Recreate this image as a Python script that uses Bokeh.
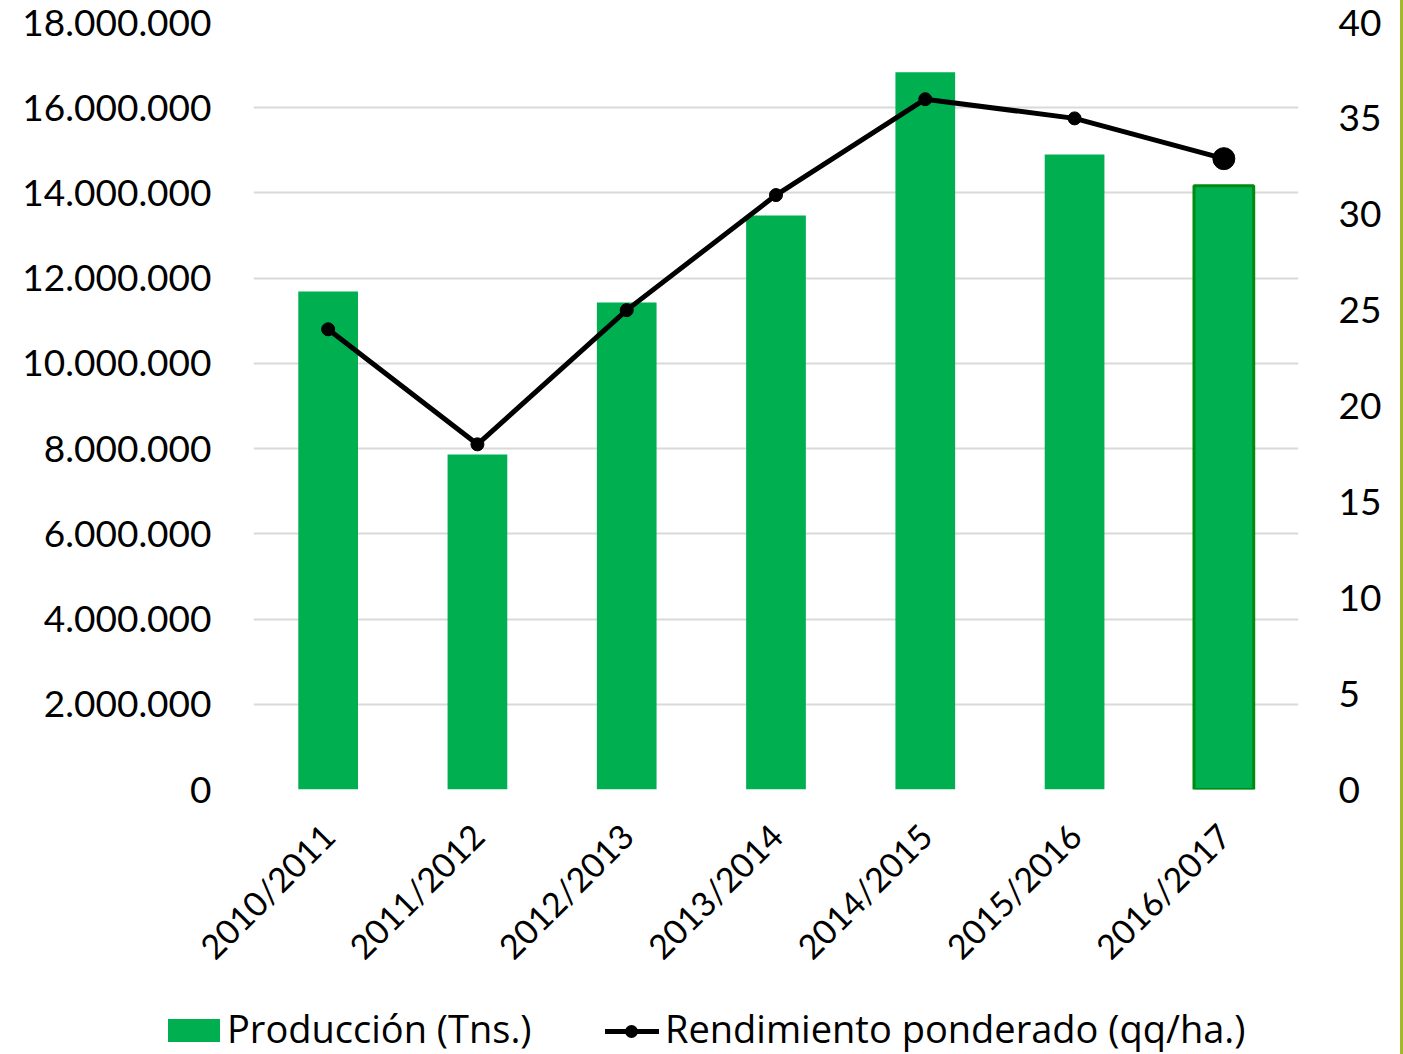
from bokeh.plotting import figure
from bokeh.models import (Range1d, LinearAxis, FixedTicker, Div)
from bokeh.layouts import column
from bokeh.embed import file_html
from bokeh.resources import INLINE

seasons = ["2010/2011", "2011/2012", "2012/2013", "2013/2014", "2014/2015", "2015/2016", "2016/2017"]
produccion = [11690000, 7860000, 11430000, 13470000, 16830000, 14900000, 14170000]
rendimiento = [24.0, 18.0, 25.0, 31.0, 36.0, 35.0, 32.9]

left_ticks = [0, 2000000, 4000000, 6000000, 8000000, 10000000, 12000000, 14000000, 16000000, 18000000]
left_labels = ["0", "2.000.000", "4.000.000", "6.000.000", "8.000.000", "10.000.000",
               "12.000.000", "14.000.000", "16.000.000", "18.000.000"]
right_ticks = [0, 5, 10, 15, 20, 25, 30, 35, 40]
right_labels = ["0", "5", "10", "15", "20", "25", "30", "35", "40"]
legend_labels = ["Producción (Tns.)", "Rendimiento ponderado (qq/ha.)"]

FONT = "Lato"
LEG_FONT = "Open Sans"
GREEN = "#00B050"
EDGE = {"border-right": "3px solid #A5B72A", "box-sizing": "border-box"}

p = figure(x_range=seasons, y_range=Range1d(0, 18000000),
           width=1403, height=1004, output_backend="svg", toolbar_location=None,
           min_border_left=253, min_border_right=105, min_border_top=22, min_border_bottom=215)
p.outline_line_color = None
p.background_fill_color = "white"
p.border_fill_color = "white"
p.styles = EDGE

p.extra_y_ranges = {"rend": Range1d(0, 40)}

# bars
p.vbar(x=seasons[:-1], top=produccion[:-1], width=0.4, fill_color=GREEN, line_color=None)
p.vbar(x=seasons[-1:], top=produccion[-1:], width=0.4, fill_color=GREEN,
       line_color="#008A0E", line_width=3)

# line
p.line(x=seasons, y=rendimiento, y_range_name="rend", line_color="black", line_width=5)
p.scatter(x=seasons[:-1], y=rendimiento[:-1], y_range_name="rend", size=13,
          fill_color="black", line_color="black")
p.scatter(x=seasons[-1:], y=rendimiento[-1:], y_range_name="rend", size=22,
          fill_color="black", line_color="black")

# axes
yl = p.yaxis[0]
yl.ticker = FixedTicker(ticks=left_ticks)
yl.major_label_overrides = {t: l for t, l in zip(left_ticks, left_labels)}
yl.axis_line_color = None
yl.major_tick_line_color = None
yl.minor_tick_line_color = None
yl.major_label_text_font = FONT
yl.major_label_text_font_size = "37px"
yl.major_label_text_color = "black"
yl.major_label_standoff = 36

yr = LinearAxis(y_range_name="rend", ticker=FixedTicker(ticks=right_ticks))
yr.major_label_overrides = {t: l for t, l in zip(right_ticks, right_labels)}
yr.axis_line_color = None
yr.major_tick_line_color = None
yr.minor_tick_line_color = None
yr.major_label_text_font = FONT
yr.major_label_text_font_size = "37px"
yr.major_label_text_color = "black"
yr.major_label_standoff = 34
p.add_layout(yr, "right")

xa = p.xaxis[0]
xa.axis_line_color = None
xa.major_tick_line_color = None
xa.minor_tick_line_color = None
xa.major_label_orientation = 0.7854
xa.major_label_text_font = FONT
xa.major_label_text_font_size = "34px"
xa.major_label_text_color = "black"
xa.major_label_standoff = 34

p.xgrid.grid_line_color = None
p.ygrid.grid_line_color = "#D9D9D9"
p.ygrid.grid_line_width = 2
p.ygrid.ticker = FixedTicker(ticks=left_ticks)

# legend strip below the plot (HTML, real text)
legend_html = (
    '<div style="position:relative;width:1400px;height:50px;'
    f'font-family:\'{LEG_FONT}\';font-size:38px;line-height:48px;color:#000;white-space:nowrap">'
    f'<span style="position:absolute;left:168px;top:15px;width:52px;height:23px;background:{GREEN}"></span>'
    f'<span style="position:absolute;left:227px;top:0px">{legend_labels[0]}</span>'
    '<span style="position:absolute;left:605px;top:25px;width:54px;height:5px;background:#000"></span>'
    '<span style="position:absolute;left:625px;top:21px;width:13px;height:13px;border-radius:50%;background:#000"></span>'
    f'<span style="position:absolute;left:665px;top:0px">{legend_labels[1]}</span>'
    '</div>'
)
leg = Div(text=legend_html, width=1403, height=50, margin=0, styles=EDGE)

layout = column(p, leg, spacing=0)
open("out.html", "w").write(file_html(layout, INLINE))
